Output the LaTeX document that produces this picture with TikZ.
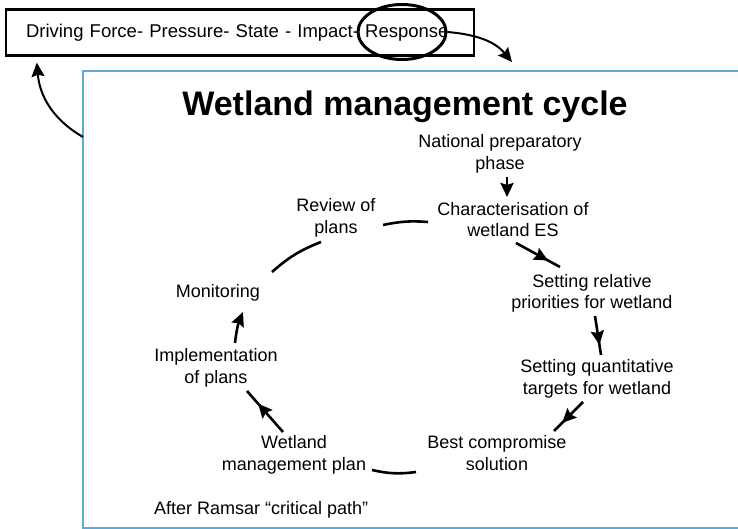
\documentclass[tikz,border=0pt]{standalone}
\usepackage{fontspec}
\setmainfont{Liberation Sans}
\usepackage{tikz}
\usetikzlibrary{shapes.geometric, positioning, arrows.meta, decorations.markings}
\definecolor{frameblue}{RGB}{94,170,214}

\begin{document}
\begin{tikzpicture}[x=1pt, y=1pt,
  lbl/.style={font=\fontsize{18}{21.6}\selectfont, align=center, inner sep=0pt},
  cyc/.style={line width=2.6pt},
  endtip/.style={-{Stealth[length=14pt, width=13pt, inset=2pt]}},
  midtip/.style={postaction={decorate}, decoration={markings,
      mark=at position #1 with {\arrow{Stealth[length=14pt, width=13pt, inset=2pt]}}}}]
      \useasboundingbox (0,0) rectangle (738,529);%

      % dpsir chain
      \node [draw, line width=2.4pt, minimum width=468pt, minimum height=46pt,
      text width=428pt, inner xsep=20pt, align=left,
      font=\fontsize{18.5}{22}\selectfont] (DPSIR) at (240,496.5)
      {\mbox{Driving Force- Pressure- State - Impact- Response}};%
      \node [draw, ellipse, line width=3pt, minimum width=88pt,
      minimum height=55pt] (Resp) at (402,497) {};%

      % frame
      \coordinate (FNW) at (83,458);%
      \coordinate (FSW) at (83,1);%
      \draw [frameblue, line width=2.2pt] (745,458) -- (FNW) -- (FSW) --
      (745,1);%

      % links to the frame
      \draw [line width=2pt, endtip] (Resp.east) to [out=-5, in=130]
      ([xshift=429pt, yshift=9pt]FNW);%
      \draw [line width=2pt, endtip] ([yshift=-66pt]FNW) to [out=150, in=-85]
      ([xshift=32pt, yshift=-6pt]DPSIR.south west);%

      \node [font=\fontsize{34}{40}\selectfont\bfseries, anchor=base] (Title)
      at (405,413) {Wetland management cycle};%

      % cycle steps
      \node [lbl] (Nat) at (500,375) {National preparatory\\phase};%
      \node [lbl] (Char) at (513,309.5) {Characterisation of\\wetland ES};%
      \node [lbl] (Rel) at (592,235.5) {Setting relative\\priorities for wetland};%
      \node [lbl] (Quant) at (597,150) {Setting quantitative\\targets for wetland};%
      \node [lbl] (Best) at (497,76) {Best compromise\\solution};%
      \node [lbl] (Plan) at (294,74) {Wetland\\management plan};%
      \node [lbl] (Impl) at (216,161) {Implementation\\of plans};%
      \node [lbl] (Mon) at (218,236) {Monitoring};%
      \node [lbl] (Rev) at (336,311) {Review of\\plans};%

      \node [lbl, anchor=base west] (Src) at (154,14)
      {After Ramsar “critical path”};%

      % arrows
      \draw [cyc, endtip] ([xshift=7pt, yshift=-23pt]Nat.center) --
      ([xshift=-6pt, yshift=22.5pt]Char.center);%
      \draw [cyc, midtip=0.73] ([xshift=3pt, yshift=-23.5pt]Char.center) --
      ([xshift=-32pt, yshift=26.5pt]Rel.center);%
      \draw [cyc, midtip=0.74] ([xshift=3pt, yshift=-22.5pt]Rel.center) --
      ([xshift=4pt, yshift=24pt]Quant.center);%
      \draw [cyc, midtip=0.72] ([xshift=-14pt, yshift=-23pt]Quant.center) --
      ([xshift=57pt, yshift=22pt]Best.center);%
      \draw [cyc] ([xshift=-81pt, yshift=-19pt]Best.center) to [bend left=10]
      ([xshift=78pt, yshift=-15pt]Plan.center);%
      \draw [cyc, midtip=0.69] ([xshift=-11pt, yshift=23pt]Plan.center) --
      ([xshift=31pt, yshift=-23pt]Impl.center);%
      \draw [cyc, endtip] ([xshift=19pt, yshift=25pt]Impl.center) to
      [bend left=8] ([xshift=25pt, yshift=-19pt]Mon.center);%
      \draw [cyc] ([xshift=54pt, yshift=21pt]Mon.center) to [bend left=10]
      ([xshift=-15pt, yshift=-24pt]Rev.center);%
      \draw [cyc] ([xshift=47pt, yshift=-7pt]Rev.center) to [bend left=8]
      ([xshift=-85pt, yshift=-2.5pt]Char.center);%
\end{tikzpicture}
\end{document}
